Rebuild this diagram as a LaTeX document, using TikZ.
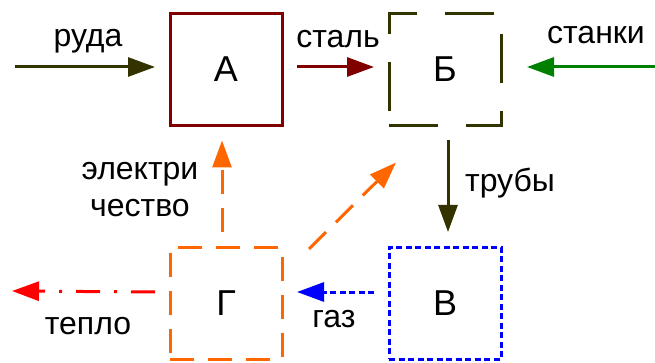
\documentclass[tikz,border=0pt]{standalone}
\usepackage{fontspec}
\setmainfont{Liberation Sans}
\usetikzlibrary{arrows.meta}
\definecolor{pipeolive}{HTML}{333300}
\definecolor{steelred}{HTML}{800000}
\definecolor{toolgreen}{HTML}{008000}
\definecolor{powerorange}{HTML}{FF6600}
\tikzset{
	box/.style={draw, line width=3pt, minimum size=112pt, outer sep=15pt, font=\fontsize{36}{40}\selectfont},
	lbl/.style={font=\fontsize{32}{37}\selectfont, align=center},
	flow/.style={line width=3pt, -{Triangle[length=27pt,width=19pt]}},
	powerdash/.style={dash pattern=on 24pt off 14pt},
	gasdots/.style={dash pattern=on 6pt off 3.5pt},
}

\begin{document}
\begin{tikzpicture}[x=1pt, y=-1pt]
			%%%%% START %%%%%
			
			\useasboundingbox (0, 0) rectangle (655, 363);
			
			\node[box, draw=steelred] (A) at (226, 69.5) {А};
			\node[box, draw=pipeolive, dash pattern=on 49pt off 28pt] (B) at (445, 69.5) {Б};
			\node[box, draw=blue, gasdots] (V) at (445, 303) {В};
			\node[box, draw=powerorange, powerdash] (G) at (226, 303) {Г};
			
			\coordinate (ore) at (15, 67);
			\coordinate (tools) at (655, 67);
			\coordinate (heat) at (12, 291);
			
			\draw[flow, color=pipeolive] (ore) -- ([yshift=2.5pt]A.west);
			\draw[flow, color=steelred] ([yshift=2.5pt]A.east) -- ([yshift=2.5pt]B.west);
			\draw[flow, color=toolgreen] (tools) -- ([xshift=11pt, yshift=2.5pt]B.east);
			\draw[flow, color=pipeolive] ([xshift=3pt]B.south) -- ([xshift=3pt]V.north);
			\draw[flow, color=powerorange, powerdash] ([xshift=-4pt]G.north) -- ([xshift=-4pt]A.south);
			\draw[flow, color=powerorange, powerdash] ([xshift=12pt, yshift=-17pt]G.north east) -- ([xshift=22pt, yshift=-22pt]B.south west);
			\draw[flow, color=blue, gasdots] ([yshift=11pt]V.west) -- ([yshift=11pt]G.east);
			\draw[flow, color=red, dash pattern=on 24pt off 14pt on 3pt off 14pt] ([yshift=11pt]G.west) -- (heat);
			
			\node[lbl, anchor=base] (ruda) at (88, 47) {руда};
			\node[lbl, anchor=base] (stal) at (338, 48) {сталь};
			\node[lbl, anchor=base] (stanki) at (596, 44) {станки};
			\node[lbl, anchor=base] (truby) at (510, 192) {трубы};
			\node[lbl] (elektr) at (140, 190) {электри\\чество};
			\node[lbl, anchor=base] (gaz) at (334, 327) {газ};
			\node[lbl, anchor=base] (teplo) at (88, 334) {тепло};
			
			%%%%% END %%%%%
\end{tikzpicture}
\end{document}
